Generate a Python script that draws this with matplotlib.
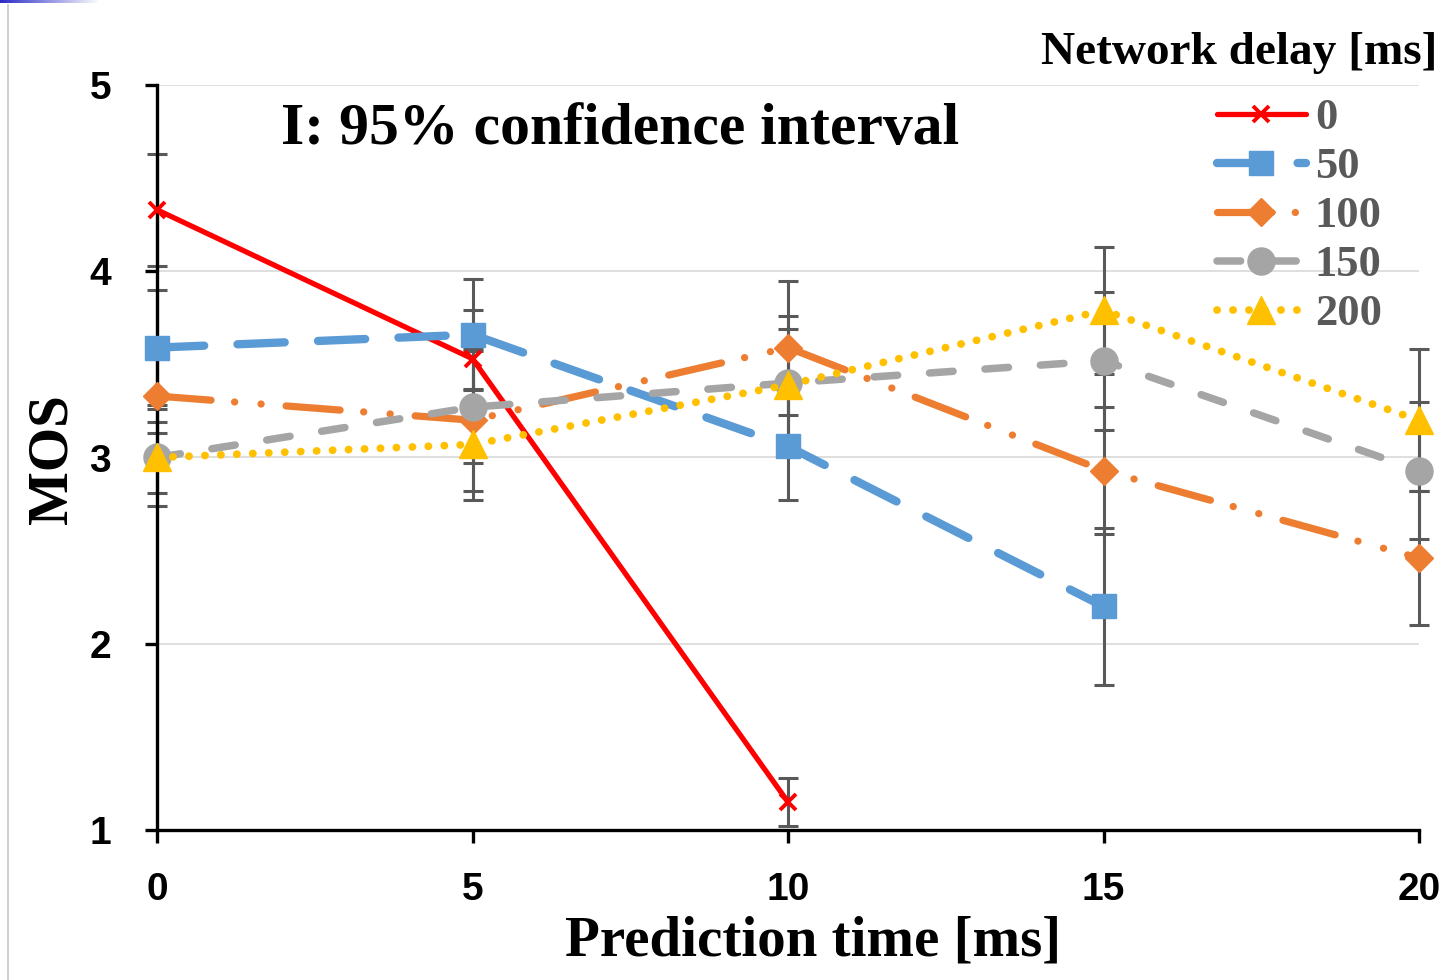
import matplotlib
matplotlib.use("Agg")
import matplotlib.pyplot as plt
import numpy as np
from matplotlib.lines import Line2D
from matplotlib.colors import LinearSegmentedColormap

# --- dati ---
pred_time = [0, 5, 10, 15, 20]
delays = ["0", "50", "100", "150", "200"]

mos_0 = [4.33, 3.53, 1.15]
mos_50 = [3.59, 3.66, 3.06, 2.20]
mos_100 = [3.33, 3.20, 3.59, 2.93, 2.46]
mos_150 = [3.00, 3.27, 3.40, 3.52, 2.93]
mos_200 = [3.00, 3.07, 3.39, 3.79, 3.20]

ci_0 = [0.30, 0.26, 0.13]
ci_50 = [0.31, 0.30, 0.29, 0.42]
ci_100 = [0.20, 0.38, 0.36, 0.34, 0.36]
ci_150 = [0.26, 0.30, 0.36, 0.37, 0.37]
ci_200 = [0.19, 0.30, 0.30, 0.34, 0.38]

plt.rcParams['lines.scale_dashes'] = False
serif = 'Liberation Serif'
sans = 'Liberation Sans'

fig = plt.figure(figsize=(14.5, 9.8), dpi=100)
ax = fig.add_axes([157/1450, 1-830/980, (1419-157)/1450, (830-85)/980])

# stile per ogni serie: colore, marker, dimensione, spessore, tratteggio
styles = [
    dict(color='#FF0000', marker='x', ms=12, mew=2.8, lw=3.8, ls='-'),
    dict(color='#5B9BD5', marker='s', ms=17, mew=1, lw=6.0, ls=(0, (34, 24))),
    dict(color='#ED7D31', marker='D', ms=14, mew=1, lw=5.2, ls=(0, (39, 17, 0.1, 19, 0.1, 18))),
    dict(color='#A5A5A5', marker='o', ms=19.5, mew=1, lw=5.4, ls=(0, (17, 23))),
    dict(color='#FFC000', marker='^', ms=20, mew=1, lw=5.6, ls=(0, (0.1, 11.4))),
]
series = [mos_0, mos_50, mos_100, mos_150, mos_200]
cis = [ci_0, ci_50, ci_100, ci_150, ci_200]

# griglia orizzontale
ax.set_axisbelow(True)
ax.yaxis.grid(True, color='#D9D9D9', lw=1.2)

handles = []
for k, (vals, ci, st) in enumerate(zip(series, cis, styles)):
    xs = pred_time[:len(vals)]
    ax.errorbar(xs, vals, yerr=ci, fmt='none', ecolor='#595959', elinewidth=2.2,
                capsize=7, capthick=2.2, zorder=2, clip_on=False)
    ln, = ax.plot(xs, vals, color=st['color'], lw=st['lw'], linestyle=st['ls'],
                  marker=st['marker'], ms=st['ms'], mew=st['mew'],
                  mec=st['color'], mfc=st['color'], dash_capstyle='round',
                  solid_capstyle='round', zorder=3 + k * 0.1, clip_on=False,
                  label=delays[k])
    handles.append(ln)

ax.set_xlim(0, 20)
ax.set_ylim(1, 5)
ax.set_xticks(pred_time)
ax.set_yticks([1, 2, 3, 4, 5])

for s in ['top', 'right']:
    ax.spines[s].set_visible(False)
for s in ['left', 'bottom']:
    ax.spines[s].set_linewidth(2.4)
    ax.spines[s].set_color('black')
    ax.spines[s].set_zorder(2.5)

ax.tick_params(axis='both', direction='out', length=9, width=2.4, color='black')
ax.tick_params(axis='y', pad=24)
ax.tick_params(axis='x', pad=21)
for lab in ax.get_xticklabels() + ax.get_yticklabels():
    lab.set_fontfamily(sans)
    lab.set_fontweight('bold')
    lab.set_fontsize(28)

ax.text(0.367, 0.940, 'I: 95% confidence interval', transform=ax.transAxes,
        ha='center', va='center', fontfamily=serif, fontweight='bold', fontsize=43)

fig.text(0.561, 1-955/980, 'Prediction time [ms]', ha='center', va='baseline',
         fontfamily=serif, fontweight='bold', fontsize=41)
fig.text(0.036, 0.531, 'MOS', ha='center', va='center', rotation=90,
         fontfamily=serif, fontweight='bold', fontsize=41)
fig.text(1239/1450, 1-53/980, 'Network delay [ms]', ha='center', va='center',
         fontfamily=serif, fontweight='bold', fontsize=34)

leg = fig.legend(handles=handles, loc='upper left',
                 bbox_to_anchor=(1217/1450, 1-98/980), frameon=False,
                 borderpad=0, borderaxespad=0, handlelength=2.0,
                 handletextpad=0.2, labelspacing=0.2, numpoints=1,
                 prop=dict(family=serif, weight='bold', size=32))
for t in leg.get_texts():
    t.set_color('#595959')

# decorazioni della slide
fig.add_artist(Line2D([8/1450, 8/1450], [0, 1-5/980], color='#C8C8C8', lw=1.2))
gax = fig.add_axes([0, 1-3/980, 100/1450, 3/980])
grad = np.linspace(0, 1, 256)[None, :]
cmap = LinearSegmentedColormap.from_list('g', ['#2B2BC8', '#FFFFFF'])
gax.imshow(grad, aspect='auto', cmap=cmap)
gax.axis('off')

fig.savefig('out.png', dpi=100, facecolor='white')
